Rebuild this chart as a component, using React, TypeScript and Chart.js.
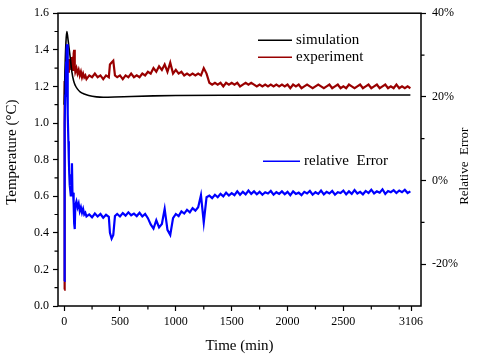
import React, { useEffect, useRef } from 'react';
import { Chart, registerables } from 'chart.js';

Chart.register(...registerables);

const FONT = "'Liberation Serif', 'Times New Roman', serif";

// Simulation curve (left axis, °C)
const simTimes = [0, 8, 16, 24, 32, 40, 54, 69, 85, 100, 120, 143, 180, 220, 290, 350, 450, 600, 800, 1000, 1500, 2000, 2500, 3100];
const simTemp = [1.10, 1.30, 1.44, 1.50, 1.47, 1.43, 1.36, 1.28, 1.23, 1.205, 1.185, 1.17, 1.158, 1.15, 1.143, 1.141, 1.142, 1.145, 1.148, 1.150, 1.152, 1.153, 1.153, 1.153];

// Measurement times (min) for experiment and relative error
const measTimes = [
  0, 3, 6, 10, 14, 18, 22, 26, 30, 34, 38, 42, 46, 50,
  55, 60, 65, 70, 75, 80, 85, 90, 95, 100,
  110, 120, 130, 140, 150, 160, 170, 180, 190, 200,
  225, 250, 275, 300, 325, 350, 375, 400, 410, 425, 440, 455,
  475, 500, 525, 550, 575, 600, 625, 650, 675, 700,
  725, 750, 775, 800, 825, 850, 875, 900, 925, 950,
  975, 1000, 1025, 1050, 1075, 1100, 1125, 1150, 1175, 1200,
  1225, 1250, 1275, 1300, 1325, 1350, 1375, 1400, 1425, 1450,
  1475, 1500, 1525, 1550, 1575, 1600, 1625, 1650, 1675, 1700,
  1725, 1750, 1775, 1800, 1825, 1850, 1875, 1900, 1925, 1950,
  1975, 2000, 2025, 2050, 2075, 2100, 2125, 2150, 2175, 2200,
  2225, 2250, 2275, 2300, 2325, 2350, 2375, 2400, 2425, 2450,
  2475, 2500, 2525, 2550, 2575, 2600, 2625, 2650, 2675, 2700,
  2725, 2750, 2775, 2800, 2825, 2850, 2875, 2900, 2925, 2950,
  2975, 3000, 3025, 3050, 3075, 3100,
];

// Experiment (left axis, °C)
const expTemp = [
  0.09, 1.05, 1.23, 1.20, 1.27, 1.31, 1.29, 1.34, 1.30, 1.33, 1.28, 1.35, 1.31, 1.29,
  1.34, 1.30, 1.36, 1.31, 1.33, 1.29, 1.38, 1.40, 1.31, 1.28,
  1.30, 1.27, 1.29, 1.26, 1.28, 1.25, 1.27, 1.25, 1.26, 1.24,
  1.26, 1.25, 1.27, 1.25, 1.26, 1.24, 1.26, 1.25, 1.32, 1.33, 1.34, 1.26,
  1.25, 1.26, 1.24, 1.26, 1.25, 1.27, 1.25, 1.26, 1.25, 1.27,
  1.26, 1.28, 1.27, 1.30, 1.28, 1.31, 1.29, 1.32, 1.28, 1.33,
  1.27, 1.29, 1.27, 1.28, 1.26, 1.27, 1.26, 1.27, 1.26, 1.27,
  1.26, 1.30, 1.27, 1.22, 1.21, 1.22, 1.21, 1.22, 1.20, 1.22,
  1.21, 1.22, 1.21, 1.22, 1.20, 1.21, 1.22, 1.21, 1.22, 1.21,
  1.20, 1.21, 1.20, 1.21, 1.20, 1.21, 1.20, 1.21, 1.20, 1.21,
  1.20, 1.21, 1.19, 1.21, 1.20, 1.21, 1.19, 1.20, 1.21, 1.20,
  1.19, 1.20, 1.21, 1.20, 1.19, 1.20, 1.21, 1.19, 1.20, 1.21,
  1.19, 1.20, 1.19, 1.21, 1.20, 1.19, 1.20, 1.21, 1.19, 1.20,
  1.21, 1.19, 1.20, 1.21, 1.19, 1.20, 1.21, 1.19, 1.20, 1.19,
  1.21, 1.19, 1.20, 1.19, 1.20, 1.19,
];

// Relative error (right axis, %)
const relError = [
  -24.0, 0.6, 13.8, 20.3, 24.7, 28.2, 31.3, 32.6, 26.9, 15.9, 9.4, 5.0, 1.5, -1.1,
  -2.4, -3.8, -2.0, 4.1, -3.8, -2.9, -5.5, -10.3, -11.6, -5.9,
  -5.0, -6.4, -5.5, -7.3, -6.4, -7.7, -6.8, -8.1, -7.7, -8.6,
  -8.1, -8.8, -7.9, -8.6, -8.0, -8.9, -8.2, -8.7, -12.5, -13.9, -13.0, -8.5,
  -8.0, -8.6, -7.8, -8.4, -7.6, -8.3, -7.9, -8.5, -7.7, -8.6,
  -8.0, -9.0, -10.5, -11.5, -9.5, -11.2, -10.4, -6.8, -11.8, -13.0,
  -9.0, -8.0, -8.5, -7.4, -7.9, -7.0, -7.6, -6.6, -7.2, -6.4,
  -3.5, -10.0, -4.0, -3.6, -4.2, -3.4, -4.0, -3.2, -3.8, -2.9,
  -3.6, -3.0, -3.5, -2.6, -3.4, -2.7, -3.3, -2.4, -3.2, -2.6,
  -3.3, -2.7, -3.4, -2.8, -3.1, -2.5, -3.4, -2.8, -3.2, -2.6,
  -3.3, -2.7, -3.5, -2.6, -3.2, -2.9, -3.5, -2.7, -3.1, -2.5,
  -3.4, -2.8, -3.2, -2.4, -3.3, -2.7, -3.1, -2.5, -3.4, -2.8,
  -3.0, -2.4, -3.3, -2.6, -3.2, -2.3, -3.1, -2.7, -3.3, -2.5,
  -3.0, -2.2, -3.1, -2.6, -2.9, -2.1, -3.2, -2.5, -2.8, -2.3,
  -3.0, -2.4, -2.8, -2.2, -3.0, -2.6,
];

// Axis ticks
const xTicks = [0, 500, 1000, 1500, 2000, 2500, 3106];
const xMinorTicks = [250, 750, 1250, 1750, 2250, 2750, 3000];
const leftTicks = [0, 0.2, 0.4, 0.6, 0.8, 1.0, 1.2, 1.4, 1.6];
const leftMinorTicks = [0.1, 0.3, 0.5, 0.7, 0.9, 1.1, 1.3, 1.5];
const rightTicks = [-20, 0, 20, 40];
const rightMinorTicks = [-10, 10, 30];

const leftTitle = 'Temperature (°C)';
const rightTitle = 'Relative  Error';

const legendTop = [
  { label: 'simulation', color: '#000000' },
  { label: 'experiment', color: '#990000' },
];
const legendBottom = { label: 'relative  Error', color: '#0000ff' };

const toPoints = (xs: number[], ys: number[]) => {
  const n = Math.min(xs.length, ys.length);
  const out: { x: number; y: number }[] = [];
  for (let i = 0; i < n; i++) out.push({ x: xs[i], y: ys[i] });
  return out;
};

const decorPlugin = {
  id: 'decor',
  afterDatasetsDraw(chart: any) {
    const { ctx, chartArea: a, scales } = chart;
    ctx.save();
    ctx.strokeStyle = '#000';
    ctx.lineWidth = 1.5;
    ctx.strokeRect(a.left, a.top, a.right - a.left, a.bottom - a.top);
    ctx.lineWidth = 1.2;
    ctx.beginPath();
    xMinorTicks.forEach((v) => {
      const px = scales.x.getPixelForValue(v);
      ctx.moveTo(px, a.bottom);
      ctx.lineTo(px, a.bottom + 3.5);
    });
    leftMinorTicks.forEach((v) => {
      const py = scales.y.getPixelForValue(v);
      ctx.moveTo(a.left, py);
      ctx.lineTo(a.left - 3.5, py);
    });
    rightMinorTicks.forEach((v) => {
      const py = scales.y2.getPixelForValue(v);
      ctx.moveTo(a.right, py);
      ctx.lineTo(a.right + 3.5, py);
    });
    ctx.stroke();

    // axis titles (both read bottom-to-top)
    ctx.fillStyle = '#000';
    ctx.textAlign = 'center';
    ctx.textBaseline = 'middle';
    ctx.save();
    ctx.translate(12, a.top + 139);
    ctx.rotate(-Math.PI / 2);
    ctx.font = `15px ${FONT}`;
    ctx.fillText(leftTitle, 0, 0);
    ctx.restore();
    ctx.save();
    ctx.translate(a.right + 44, a.top + 153);
    ctx.rotate(-Math.PI / 2);
    ctx.font = `13px ${FONT}`;
    ctx.fillText(rightTitle, 0, 0);
    ctx.restore();

    // legends
    ctx.font = `15px ${FONT}`;
    ctx.textBaseline = 'middle';
    ctx.textAlign = 'left';
    ctx.fillStyle = '#000';
    ctx.lineWidth = 1.5;
    legendTop.forEach((item, i) => {
      const y = a.top + 27 + i * 17;
      ctx.strokeStyle = item.color;
      ctx.beginPath();
      ctx.moveTo(a.left + 200, y);
      ctx.lineTo(a.left + 234, y);
      ctx.stroke();
      ctx.fillText(item.label, a.left + 238, y);
    });
    {
      const y = a.top + 148;
      ctx.strokeStyle = legendBottom.color;
      ctx.beginPath();
      ctx.moveTo(a.left + 205, y);
      ctx.lineTo(a.left + 242, y);
      ctx.stroke();
      ctx.fillText(legendBottom.label, a.left + 246, y);
    }
    ctx.restore();
  },
};

export default function App() {
  const ref = useRef<HTMLCanvasElement | null>(null);

  useEffect(() => {
    if (!ref.current) return;
    const tickFont = { family: FONT, size: 12 };
    const chart = new Chart(ref.current, {
      type: 'line',
      data: {
        datasets: [
          {
            label: 'relative  Error',
            data: toPoints(measTimes, relError),
            borderColor: '#0000ff',
            borderWidth: 2.2,
            pointRadius: 0,
            yAxisID: 'y2',
            order: 0,
          },
          {
            label: 'simulation',
            data: toPoints(simTimes, simTemp),
            borderColor: '#000000',
            borderWidth: 1.6,
            pointRadius: 0,
            cubicInterpolationMode: 'monotone',
            yAxisID: 'y',
            order: 1,
          },
          {
            label: 'experiment',
            data: toPoints(measTimes, expTemp),
            borderColor: '#990000',
            borderWidth: 2.2,
            pointRadius: 0,
            yAxisID: 'y',
            order: 2,
          },
        ],
      },
      options: {
        animation: false,
        responsive: false,
        devicePixelRatio: 1,
        parsing: false,
        layout: { padding: { top: 9, left: 0, right: 0, bottom: 0 } },
        plugins: { legend: { display: false }, tooltip: { enabled: false } },
        scales: {
          x: {
            type: 'linear',
            min: -55,
            max: 3195,
            afterBuildTicks: (s: any) => {
              s.ticks = xTicks.map((v) => ({ value: v }));
            },
            afterFit: (s: any) => {
              s.height = 50;
            },
            ticks: {
              font: tickFont,
              color: '#000',
              padding: 4,
              maxRotation: 0,
              autoSkip: false,
              callback: (v: any) => String(v),
            },
            grid: {
              drawOnChartArea: false,
              drawTicks: true,
              tickLength: 5,
              tickColor: '#000',
              tickWidth: 1.2,
            },
            border: { display: false },
            title: {
              display: true,
              text: 'Time (min)',
              color: '#000',
              font: { family: FONT, size: 15 },
              padding: { top: 0, bottom: 1 },
            },
          },
          y: {
            type: 'linear',
            position: 'left',
            min: 0,
            max: 1.6,
            afterBuildTicks: (s: any) => {
              s.ticks = leftTicks.map((v) => ({ value: v }));
            },
            afterFit: (s: any) => {
              s.width = 58;
            },
            ticks: {
              font: tickFont,
              color: '#000',
              padding: 4,
              callback: (v: any) => Number(v).toFixed(1),
            },
            grid: {
              drawOnChartArea: false,
              drawTicks: true,
              tickLength: 5,
              tickColor: '#000',
              tickWidth: 1.2,
            },
            border: { display: false },
            title: { display: false },
          },
          y2: {
            type: 'linear',
            position: 'right',
            min: -30,
            max: 40,
            afterBuildTicks: (s: any) => {
              s.ticks = rightTicks.map((v) => ({ value: v }));
            },
            afterFit: (s: any) => {
              s.width = 59;
            },
            ticks: {
              font: tickFont,
              color: '#000',
              padding: 6,
              callback: (v: any) => `${v}%`,
            },
            grid: {
              drawOnChartArea: false,
              drawTicks: true,
              tickLength: 5,
              tickColor: '#000',
              tickWidth: 1.2,
            },
            border: { display: false },
            title: { display: false },
          },
        },
      } as any,
      plugins: [decorPlugin],
    });
    return () => chart.destroy();
  }, []);

  return (
    <div style={{ position: 'absolute', left: 0, top: 0, width: 480, height: 356, background: '#fff' }}>
      <canvas ref={ref} width={480} height={356} />
    </div>
  );
}
